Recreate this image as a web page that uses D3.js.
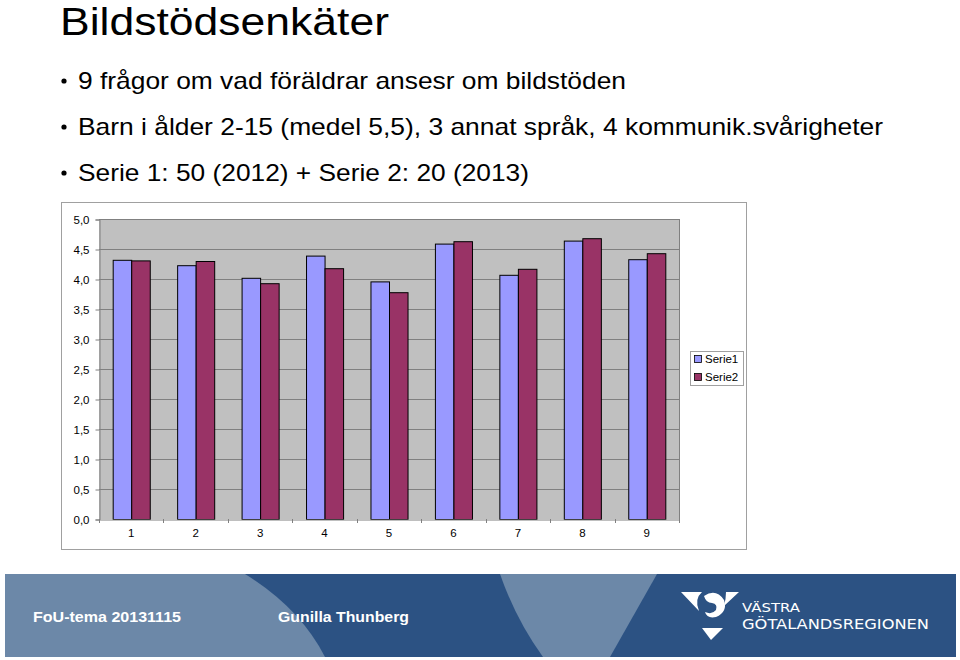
<!DOCTYPE html>
<html><head><meta charset="utf-8">
<script src="https://cdn.jsdelivr.net/npm/d3@7"></script>
<style>body{margin:0;background:#fff}svg{display:block}</style>
</head><body>
<script>
const categories = ["1","2","3","4","5","6","7","8","9"];
const serie1 = [4.32, 4.23, 4.02, 4.39, 3.96, 4.59, 4.07, 4.64, 4.33];
const serie2 = [4.31, 4.30, 3.93, 4.18, 3.78, 4.63, 4.17, 4.68, 4.43];
const seriesNames = ["Serie1", "Serie2"];
const yTicks = [0,0.5,1,1.5,2,2.5,3,3.5,4,4.5,5];
const titleText = "Bildstödsenkäter";
const bullets = [
  "9 frågor om vad föräldrar ansesr om bildstöden",
  "Barn i ålder 2-15 (medel 5,5), 3 annat språk, 4 kommunik.svårigheter",
  "Serie 1: 50 (2012) + Serie 2: 20 (2013)"
];
const footerLeft = "FoU-tema 20131115";
const footerMid = "Gunilla Thunberg";
const logoLines = ["VÄSTRA", "GÖTALANDSREGIONEN"];

const W = 960, H = 660;
const svg = d3.select("body").append("svg").attr("width", W).attr("height", H);
const FONT = "Liberation Sans, Arial, sans-serif";

// Title and bullets
svg.append("text").attr("x", 60).attr("y", 35).attr("font-family", FONT)
  .attr("font-size", 39).attr("fill", "#000")
  .attr("textLength", 329).attr("lengthAdjust", "spacingAndGlyphs").text(titleText);
const bulletWidths = [548, 805, 451];
bullets.forEach((b, i) => {
  const y = 89 + i * 46;
  svg.append("circle").attr("cx", 64).attr("cy", y - 8).attr("r", 2.6).attr("fill", "#000");
  svg.append("text").attr("x", 78).attr("y", y).attr("font-family", FONT)
    .attr("font-size", 24).attr("fill", "#000")
    .attr("textLength", bulletWidths[i]).attr("lengthAdjust", "spacingAndGlyphs").text(b);
});

// Chart frame
svg.append("rect").attr("x", 61.5).attr("y", 202.5).attr("width", 685).attr("height", 347)
  .attr("fill", "#fff").attr("stroke", "#a0a0a0").attr("stroke-width", 1);

const plot = {left: 99, right: 679, top: 219, bottom: 519};
const x = d3.scaleBand().domain(categories).range([plot.left, plot.right]).paddingInner(0.425).paddingOuter(0.2125);
const x1 = d3.scaleBand().domain(seriesNames).range([0, x.bandwidth()]);
const y = d3.scaleLinear().domain([0, 5]).range([plot.bottom, plot.top]);

svg.append("rect").attr("x", plot.left).attr("y", plot.top)
  .attr("width", plot.right - plot.left).attr("height", plot.bottom - plot.top).attr("fill", "#c0c0c0");

// gridlines
svg.append("g").selectAll("line").data(yTicks.filter(d => d > 0)).join("line")
  .attr("x1", plot.left).attr("x2", plot.right)
  .attr("y1", d => Math.round(y(d)) + 0.5).attr("y2", d => Math.round(y(d)) + 0.5)
  .attr("stroke", "#808080").attr("stroke-width", 1);
// right border
svg.append("line").attr("x1", plot.right + 0.5).attr("x2", plot.right + 0.5)
  .attr("y1", plot.top).attr("y2", plot.bottom).attr("stroke", "#808080");

// y axis
const yAxis = d3.axisLeft(y).tickValues(yTicks).tickSize(4).tickPadding(6)
  .tickFormat(d => d3.format(".1f")(d).replace(".", ","));
const gy = svg.append("g").attr("transform", `translate(${plot.left + 0.5},0.5)`).call(yAxis);
gy.select(".domain").attr("stroke", "#808080");
gy.selectAll(".tick line").attr("stroke", "#808080");
gy.selectAll(".tick text").attr("font-family", FONT).attr("font-size", 11.5).attr("fill", "#000");

// bars
const data = categories.map((c, i) => ({c, vals: [serie1[i], serie2[i]]}));
const colors = ["#9999ff", "#993366"];
const groups = svg.append("g").selectAll("g").data(data).join("g")
  .attr("transform", d => `translate(${x(d.c)},0)`);
groups.selectAll("rect").data(d => d.vals.map((v, k) => ({k, v}))).join("rect")
  .attr("x", d => x1(seriesNames[d.k]) + 0.5)
  .attr("width", x1.bandwidth())
  .attr("y", d => y(d.v) + 0.5)
  .attr("height", d => y(0) - y(d.v))
  .attr("fill", d => colors[d.k]).attr("stroke", "#000").attr("stroke-width", 1);

// x axis
const xAxis = d3.axisBottom(x).tickSize(0).tickPadding(9);
const gx = svg.append("g").attr("transform", `translate(0,${plot.bottom + 0.5})`).call(xAxis);
gx.select(".domain").attr("stroke", "#808080");
gx.selectAll(".tick text").attr("font-family", FONT).attr("font-size", 11.5).attr("fill", "#000");
// category boundary ticks
const step = x.step();
const bounds = d3.range(categories.length + 1).map(i => plot.left + i * (plot.right - plot.left) / categories.length);
svg.append("g").selectAll("line").data(bounds).join("line")
  .attr("x1", d => Math.round(d) + 0.5).attr("x2", d => Math.round(d) + 0.5)
  .attr("y1", plot.bottom).attr("y2", plot.bottom + 4).attr("stroke", "#808080");

// legend
const lg = svg.append("g");
lg.append("rect").attr("x", 690.5).attr("y", 351.5).attr("width", 53).attr("height", 34)
  .attr("fill", "#fff").attr("stroke", "#a0a0a0");
seriesNames.forEach((n, i) => {
  const cy = 359 + i * 18;
  lg.append("rect").attr("x", 694.5).attr("y", cy - 3.5).attr("width", 7).attr("height", 7)
    .attr("fill", colors[i]).attr("stroke", "#000").attr("stroke-width", 0.8);
  lg.append("text").attr("x", 705).attr("y", cy + 4).attr("font-family", FONT)
    .attr("font-size", 11.5).attr("fill", "#000").text(n);
});

// footer
const fy0 = 574, fy1 = 657;
const foot = svg.append("g");
foot.append("rect").attr("x", 5).attr("y", fy0).attr("width", 951).attr("height", fy1 - fy0).attr("fill", "#2c5283");
foot.append("path").attr("d", `M5,${fy0} L245,${fy0} Q300,608 325,${fy1} L5,${fy1} Z`).attr("fill", "#6c88a8");
foot.append("path").attr("d", `M500,${fy0} L657,${fy0} L610,${fy1} L543,${fy1} Q516,620 500,${fy0} Z`).attr("fill", "#6c88a8");
foot.append("text").attr("x", 33).attr("y", 622).attr("font-family", FONT).attr("font-weight", "bold")
  .attr("font-size", 15).attr("fill", "#fff").attr("textLength", 148).attr("lengthAdjust", "spacingAndGlyphs").text(footerLeft);
foot.append("text").attr("x", 278).attr("y", 622).attr("font-family", FONT).attr("font-weight", "bold")
  .attr("font-size", 15).attr("fill", "#fff").attr("textLength", 131).attr("lengthAdjust", "spacingAndGlyphs").text(footerMid);

// logo
const logo = foot.append("g").attr("fill", "#fff");
logo.append("path").attr("d", "M681,592 L702,592 Q694,599 699,611 Z");
logo.append("path").attr("d", "M704,596 Q716,588 724,600 Q728,612 716,617 Q707,619 705,612 Q712,615 716,610 Q718,604 712,603 Q706,603 704,596 Z");
logo.append("path").attr("d", "M726,592 L739,592 L724,606 Q726,599 726,592 Z");
logo.append("path").attr("d", "M702,628 L723,628 L711,640 Z");
logo.append("text").attr("x", 742).attr("y", 612).attr("font-family", "DejaVu Sans, sans-serif")
  .attr("font-size", 12.5).attr("textLength", 58).attr("lengthAdjust", "spacingAndGlyphs").text(logoLines[0]);
logo.append("text").attr("x", 742).attr("y", 629).attr("font-family", "DejaVu Sans, sans-serif")
  .attr("font-size", 14).attr("textLength", 187).attr("lengthAdjust", "spacingAndGlyphs").text(logoLines[1]);
</script>
</body></html>
